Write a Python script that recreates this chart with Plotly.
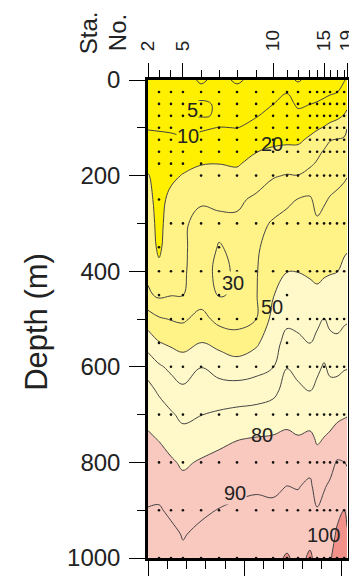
import plotly.graph_objects as go

# ---------------- data ----------------
stations = [2, 3, 4, 5, 6, 7, 8, 9, 10, 11, 12, 13, 14, 15, 16, 17, 18, 19]
# along-track position of each station (km)
station_km = [0.0, 5.7, 11.9, 18.1, 27.5, 36.8, 46.1, 56.0, 64.8, 72.0,
              77.7, 83.9, 87.6, 91.2, 94.3, 97.9, 101.6, 103.1]
labelled_stations = [2, 5, 10, 15, 19]

depths = [0, 25, 50, 75, 100, 125, 150, 175, 200, 250, 300, 350, 400, 450,
          500, 550, 600, 650, 700, 750, 800, 850, 900, 950, 1000]

# value profiles (one list per station, at the depths above)
sta02 = [6.0, 6.9, 7.8, 8.7, 9.6, 11.8, 14.9, 18.1, 20.4, 22.4, 24.3, 26.0, 27.8, 31.5, 44.9, 55.7, 66.4, 72.8, 77.4, 81.3, 84.4, 87.4, 90.4, 93.2, 96.0]
sta03 = [6.0, 6.9, 7.8, 8.7, 9.5, 11.2, 13.6, 16.0, 17.3, 17.0, 17.2, 18.0, 22.6, 28.4, 41.1, 50.5, 61.4, 68.7, 74.3, 79.5, 83.5, 87.3, 90.8, 93.4, 96.0]
sta04 = [6.0, 6.9, 7.7, 8.6, 9.4, 10.8, 13.2, 15.6, 18.1, 22.4, 25.0, 26.6, 28.1, 29.7, 39.5, 48.3, 57.8, 64.9, 71.1, 76.4, 81.2, 84.9, 88.5, 91.9, 95.0]
sta05 = [6.5, 6.0, 5.2, 5.3, 8.2, 10.9, 14.2, 17.4, 20.5, 25.5, 28.6, 28.9, 29.1, 29.9, 38.6, 46.9, 54.8, 61.9, 67.9, 73.4, 78.7, 82.6, 86.0, 89.5, 91.5]
sta06 = [4.5, 6.0, 4.6, 4.6, 8.8, 12.7, 16.2, 19.6, 22.7, 28.8, 33.0, 33.2, 33.4, 35.3, 43.2, 50.4, 59.8, 65.0, 69.8, 75.6, 80.9, 84.8, 88.7, 91.6, 94.0]
sta07 = [6.0, 5.8, 5.3, 5.4, 10.3, 13.5, 16.7, 19.9, 22.8, 28.6, 31.5, 29.6, 28.0, 29.4, 37.1, 47.2, 56.1, 64.1, 71.3, 77.7, 82.6, 86.6, 90.3, 92.7, 95.0]
sta08 = [4.5, 6.0, 6.5, 7.5, 9.9, 13.0, 16.1, 19.1, 22.3, 28.5, 31.5, 31.3, 31.2, 31.0, 36.7, 44.2, 54.3, 64.2, 72.7, 79.6, 83.9, 88.2, 91.3, 93.7, 96.0]
sta09 = [6.0, 6.3, 7.0, 9.5, 12.9, 16.4, 19.8, 22.9, 25.8, 31.5, 37.0, 38.4, 39.3, 39.4, 39.9, 48.4, 56.5, 65.2, 73.5, 80.4, 84.7, 89.0, 91.9, 94.5, 97.0]
sta10 = [7.0, 8.5, 9.9, 12.7, 15.4, 18.2, 21.3, 25.2, 29.2, 35.5, 41.0, 45.0, 46.8, 49.6, 53.0, 56.4, 59.7, 67.5, 74.8, 80.9, 84.6, 88.4, 91.8, 94.9, 98.0]
sta11 = [6.0, 9.7, 12.0, 14.2, 16.5, 18.7, 21.8, 26.1, 30.5, 38.3, 42.8, 46.4, 49.8, 53.9, 57.9, 63.1, 69.7, 73.7, 77.5, 81.5, 85.8, 90.1, 93.5, 97.0, 100.8]
sta12 = [4.6, 7.0, 9.0, 11.6, 15.1, 18.5, 22.2, 26.2, 30.2, 40.3, 43.5, 46.8, 49.8, 53.8, 57.5, 61.8, 67.1, 71.9, 76.3, 80.6, 85.1, 89.6, 92.5, 95.3, 98.0]
sta13 = [6.0, 8.0, 9.9, 13.7, 17.6, 21.4, 24.9, 28.5, 33.2, 41.1, 43.7, 46.3, 48.9, 52.3, 56.1, 59.8, 64.8, 69.7, 75.9, 81.9, 87.2, 91.5, 94.8, 98.0, 101.0]
sta14 = [6.5, 8.2, 10.4, 14.7, 19.1, 23.4, 27.8, 31.0, 33.1, 37.3, 41.2, 44.5, 47.8, 51.9, 57.4, 62.9, 68.2, 72.2, 75.6, 79.0, 82.8, 86.7, 90.5, 94.3, 98.0]
sta15 = [6.5, 8.5, 11.4, 15.9, 20.5, 26.4, 30.8, 32.9, 35.0, 39.1, 42.4, 45.5, 48.6, 53.6, 60.2, 65.9, 70.9, 74.0, 77.0, 80.2, 84.7, 89.3, 92.5, 95.5, 98.5]
sta16 = [7.0, 9.1, 12.6, 17.0, 22.4, 29.7, 32.1, 34.3, 36.5, 40.6, 43.5, 46.5, 49.4, 53.4, 57.7, 62.6, 68.1, 72.7, 76.9, 81.4, 87.0, 91.3, 94.0, 96.6, 99.3]
sta17 = [7.5, 9.8, 13.9, 18.1, 24.0, 30.4, 32.9, 35.3, 37.8, 41.5, 44.3, 47.0, 49.8, 53.5, 57.3, 61.7, 67.9, 73.1, 77.9, 84.1, 90.7, 94.4, 98.1, 101.0, 103.0]
sta18 = [9.5, 13.0, 16.7, 20.5, 26.4, 31.1, 33.7, 36.4, 39.0, 42.5, 45.6, 48.7, 51.9, 55.2, 58.6, 63.4, 69.2, 74.2, 79.1, 84.6, 90.1, 95.3, 100.2, 102.1, 104.0]
sta19 = [11.0, 14.4, 17.7, 22.4, 29.8, 32.4, 34.9, 37.3, 39.7, 43.0, 46.1, 49.2, 52.5, 55.8, 59.0, 63.9, 69.4, 74.5, 79.5, 84.4, 89.2, 93.8, 98.2, 100.8, 102.0]

profiles = [sta02, sta03, sta04, sta05, sta06, sta07, sta08, sta09, sta10,
            sta11, sta12, sta13, sta14, sta15, sta16, sta17, sta18, sta19]

# sampling points (depth -> stations sampled)
sample_depths = [25, 50, 75, 100, 125, 150, 175, 200, 250, 300, 350, 400,
                 450, 500, 550, 600, 700, 800, 900, 1000]
all_st = list(range(3, 19))
sample_stations = [all_st, all_st, all_st, all_st, all_st, all_st, [3, 4, 5, 6],
                   [4] + list(range(6, 19)), [3], list(range(4, 19)), [3, 7],
                   all_st, [3, 5, 7, 11], list(range(4, 19)), [3, 11],
                   list(range(4, 19)), all_st, all_st, all_st, all_st]

# contour labels: (text, km, depth)
label_text = ["5", "10", "20", "30", "50", "80", "90", "100"]
label_km = [23.3, 20.7, 64.2, 44.0, 64.2, 59.1, 45.1, 90.7]
label_depth = [63, 117, 134, 425, 475, 743, 864, 952]

# ---------------- styling ----------------
Y1, Y2, Y3, P1, P2 = "#FFEF00", "#FFF387", "#FFF8C8", "#F9C8BF", "#F2918A"
label_bg = [Y1, Y1, None, Y2, None, None, P1, None]
FONT = "Liberation Sans, Arial, Helvetica, sans-serif"
TXT = "#222222"
XMAX = 103.6

z = [[profiles[j][i] for j in range(len(stations))] for i in range(len(depths))]

fig = go.Figure()
fig.add_trace(go.Contour(
    x=station_km, y=depths, z=z,
    contours=dict(start=10, end=100, size=10, coloring="fill", showlines=True),
    colorscale=[[0, Y1], [0.15, Y1], [0.15, Y2], [0.45, Y2], [0.45, Y3],
                [0.75, Y3], [0.75, P1], [0.95, P1], [0.95, P2], [1, P2]],
    line=dict(color="#444444", width=1, smoothing=1.1),
    showscale=False, hoverinfo="skip"))
fig.add_trace(go.Contour(
    x=station_km, y=depths, z=z, xaxis="x2", yaxis="y2",
    contours=dict(start=5, end=5, size=5, coloring="none", showlines=True),
    line=dict(color="#444444", width=1, smoothing=1.1),
    showscale=False, hoverinfo="skip"))

dx, dy = [], []
for d, sts in zip(sample_depths, sample_stations):
    for s in sts:
        dx.append(station_km[stations.index(s)])
        dy.append(d)
fig.add_trace(go.Scatter(x=dx, y=dy, mode="markers",
                         marker=dict(size=2.6, color="#111111"),
                         hoverinfo="skip", showlegend=False))

for t, xk, yd, bg in zip(label_text, label_km, label_depth, label_bg):
    fig.add_annotation(x=xk, y=yd, xref="x", yref="y", text=t, showarrow=False,
                       xanchor="center", yanchor="middle",
                       font=dict(family=FONT, size=20, color=TXT),
                       bgcolor=bg, borderpad=0)

major_km = [station_km[stations.index(s)] for s in labelled_stations]
# the page body adds an 8 px offset; margins are shifted by 8 px to compensate
fig.update_layout(
    width=357, height=569, margin=dict(l=140, r=17, t=72, b=19, autoexpand=False),
    paper_bgcolor="white", plot_bgcolor="white", showlegend=False,
    font=dict(family=FONT, color=TXT),
    xaxis=dict(range=[0, XMAX], showgrid=False, zeroline=False, automargin=False,
               showline=True, linewidth=2.5, linecolor="black", mirror=True,
               ticks="outside", tickmode="array", tickvals=[0, 50, 100],
               ticklen=15, tickwidth=1.2, tickcolor="black", showticklabels=False,
               minor=dict(ticks="outside", tickmode="array",
                          tickvals=[10, 20, 30, 40, 60, 70, 80, 90],
                          ticklen=8, tickwidth=1.2, tickcolor="black")),
    xaxis2=dict(range=[0, XMAX], overlaying="x", side="top", anchor="y",
                showgrid=False, zeroline=False, showline=False, automargin=False,
                ticks="outside", tickmode="array", tickvals=major_km,
                ticktext=[str(s) for s in labelled_stations], tickangle=-90,
                ticklen=16, tickwidth=1.2, tickcolor="black",
                ticklabelstandoff=8, ticklabeloverflow="allow",
                tickfont=dict(family=FONT, size=19, color=TXT),
                minor=dict(ticks="outside", tickmode="array", tickvals=station_km,
                           ticklen=9, tickwidth=1.2, tickcolor="black")),
    yaxis=dict(range=[1000, 0], showgrid=False, zeroline=False, automargin=False,
               showline=True, linewidth=2.5, linecolor="black", mirror=True,
               ticks="outside", tickmode="array",
               tickvals=[0, 200, 400, 600, 800, 1000], ticklen=16, tickwidth=1.2,
               tickcolor="black", ticklabelstandoff=4, ticklabeloverflow="allow",
               tickfont=dict(family=FONT, size=24, color=TXT),
               minor=dict(ticks="outside", tickmode="array",
                          tickvals=[100, 300, 500, 700, 900],
                          ticklen=8, tickwidth=1.2, tickcolor="black")),
    yaxis2=dict(range=[1000, 0], overlaying="y", side="right", anchor="x",
                showgrid=False, zeroline=False, showline=False, automargin=False,
                ticks="outside", tickmode="array",
                tickvals=list(range(0, 1001, 100)), ticklen=8, tickwidth=1.2,
                tickcolor="black", showticklabels=False),
)

fig.add_annotation(x=-0.555, y=0.494, xref="paper", yref="paper", text="Depth (m)",
                   textangle=-90, showarrow=False, xanchor="center", yanchor="middle",
                   font=dict(family=FONT, size=31, color=TXT))
fig.add_annotation(x=-0.2975, y=1.099, xref="paper", yref="paper", text="Sta.",
                   textangle=-90, showarrow=False, xanchor="center", yanchor="middle",
                   font=dict(family=FONT, size=24, color=TXT))
fig.add_annotation(x=-0.1525, y=1.099, xref="paper", yref="paper", text="No.",
                   textangle=-90, showarrow=False, xanchor="center", yanchor="middle",
                   font=dict(family=FONT, size=24, color=TXT))

fig.write_html("out.html")
